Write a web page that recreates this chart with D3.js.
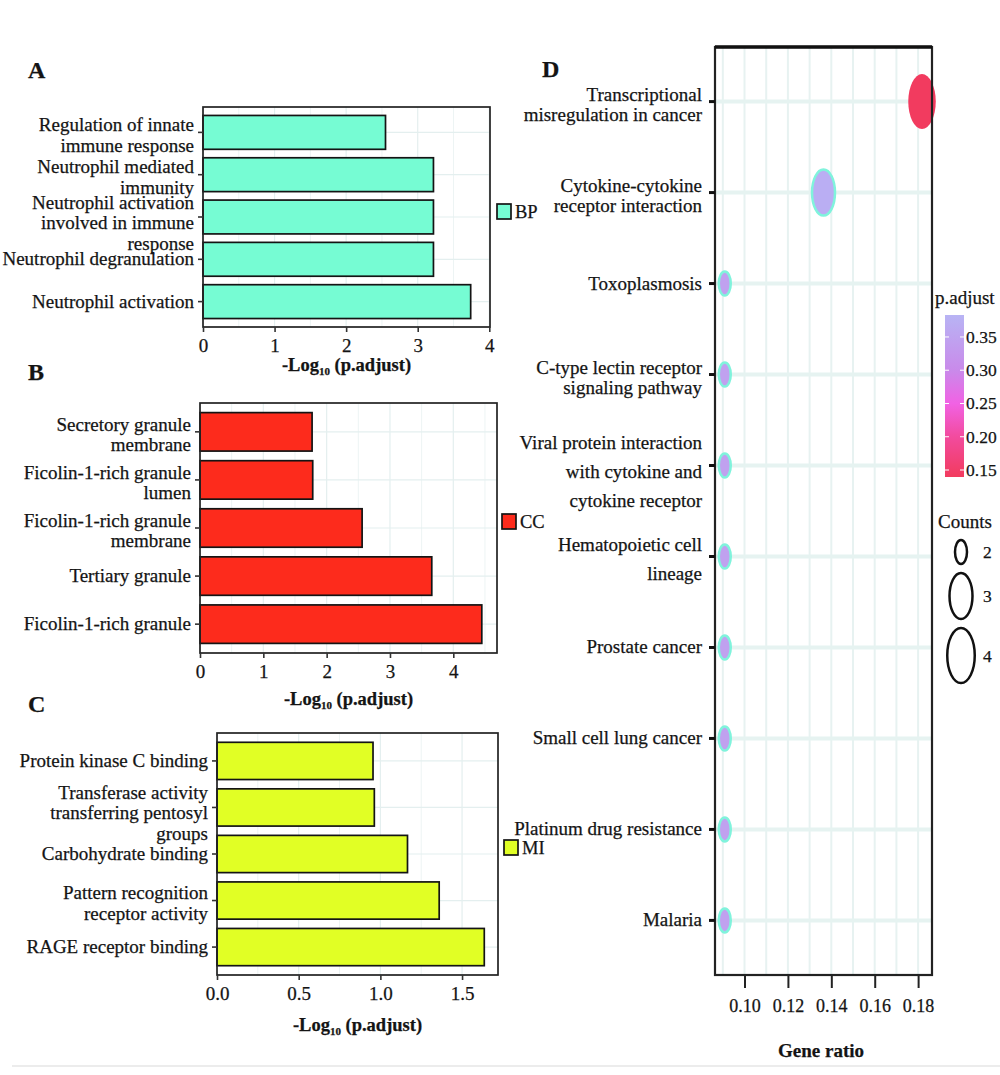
<!DOCTYPE html>
<html>
<head>
<meta charset="utf-8">
<script src="https://cdn.jsdelivr.net/npm/d3@7"></script>
<style>
  body { margin: 0; background: #fff; }
  svg text { font-family: "Liberation Serif", "Times New Roman", serif; fill: #141414; stroke: #141414; stroke-width: 0.25px; }
</style>
</head>
<body>
<div id="canvas"></div>
<script>
(function(d3){

  // GO biological process
  var bpTerms = ['Regulation of innate\nimmune response', 'Neutrophil mediated\nimmunity',
                 'Neutrophil activation\ninvolved in immune\nresponse', 'Neutrophil degranulation',
                 'Neutrophil activation'];
  var bpValues = [2.55, 3.22, 3.22, 3.22, 3.74];
  var bpTicks = [0, 1, 2, 3, 4];

  // GO cellular component
  var ccTerms = ['Secretory granule\nmembrane', 'Ficolin-1-rich granule\nlumen',
                 'Ficolin-1-rich granule\nmembrane', 'Tertiary granule', 'Ficolin-1-rich granule'];
  var ccValues = [1.77, 1.78, 2.56, 3.66, 4.45];
  var ccTicks = [0, 1, 2, 3, 4];

  // GO molecular function
  var mfTerms = ['Protein kinase C binding', 'Transferase activity\ntransferring pentosyl\ngroups',
                 'Carbohydrate binding', 'Pattern recognition\nreceptor activity', 'RAGE receptor binding'];
  var mfValues = [0.955, 0.963, 1.166, 1.36, 1.636];
  var mfTicks = [0, 0.5, 1.0, 1.5];

  // KEGG dot plot
  var keggTerms = ['Transcriptional\nmisregulation in cancer', 'Cytokine-cytokine\nreceptor interaction',
                   'Toxoplasmosis', 'C-type lectin receptor\nsignaling pathway',
                   'Viral protein interaction\nwith cytokine and\ncytokine receptor',
                   'Hematopoietic cell\nlineage', 'Prostate cancer', 'Small cell lung cancer',
                   'Platinum drug resistance', 'Malaria'];
  var keggRatio = [0.1818, 0.1364, 0.0909, 0.0909, 0.0909, 0.0909, 0.0909, 0.0909, 0.0909, 0.0909];
  var keggPadj = [0.14, 0.372, 0.345, 0.345, 0.345, 0.345, 0.345, 0.345, 0.345, 0.345];
  var keggCount = [4, 3, 2, 2, 2, 2, 2, 2, 2, 2];
  var ratioTicks = [0.10, 0.12, 0.14, 0.16, 0.18];
  var padjTicks = [0.15, 0.20, 0.25, 0.30, 0.35];
  var countKeys = [2, 3, 4];


  var canvas = d3.select('#canvas').append('svg')
      .attr('width', 1000)
      .attr('height', 1075);

  var ink = '#141414',
      gridMajor = '#e4efef',
      gridMinor = '#edf4f4',
      labelSize = 19;


  /**
   * Multi line category label, centred on y.
   */
  function label(g, text, x, y, lh) {
    var lines = text.split('\n'),
        first = y - (lines.length - 1) / 2 * lh + 3 * (lines.length - 1) + 6;
    var t = g.append('text')
        .attr('x', x)
        .attr('y', first)
        .attr('text-anchor', 'end')
        .style('font-size', labelSize + 'px');
    lines.forEach(function(l, i) {
      t.append('tspan').attr('x', x).attr('dy', i === 0 ? 0 : lh).text(l);
    });
  }


  /**
   * Horizontal bar panel (A, B, C).
   */
  function barPanel(p) {
    var g = canvas.append('g');

    var x = d3.scaleLinear().domain([0, p.max]).range([p.left, p.right]);
    var y = d3.scaleBand().domain(p.terms).range([p.top, p.bottom])
        .paddingInner(0.2).paddingOuter(0.2);

    // grid
    var minor = p.ticks.map(function(d, i) { return d + p.step / 2; })
        .filter(function(d) { return d < p.max; });
    g.selectAll('.minor').data(minor)
      .enter().append('line')
        .attr('x1', function(d) { return x(d); })
        .attr('x2', function(d) { return x(d); })
        .attr('y1', p.top).attr('y2', p.bottom)
        .attr('stroke', gridMinor).attr('stroke-width', 1);
    g.selectAll('.major').data(p.ticks)
      .enter().append('line')
        .attr('x1', function(d) { return x(d); })
        .attr('x2', function(d) { return x(d); })
        .attr('y1', p.top).attr('y2', p.bottom)
        .attr('stroke', gridMajor).attr('stroke-width', 1.2);
    g.selectAll('.hgrid').data(p.terms)
      .enter().append('line')
        .attr('x1', p.left).attr('x2', p.right)
        .attr('y1', function(d) { return y(d) + y.bandwidth() / 2; })
        .attr('y2', function(d) { return y(d) + y.bandwidth() / 2; })
        .attr('stroke', gridMajor).attr('stroke-width', 1.2);

    // bars
    g.selectAll('.bar').data(p.values)
      .enter().append('rect')
        .attr('x', x(0))
        .attr('y', function(d, i) { return y(p.terms[i]); })
        .attr('width', function(d) { return x(d) - x(0); })
        .attr('height', y.bandwidth())
        .attr('fill', p.fill)
        .attr('stroke', ink)
        .attr('stroke-width', 1.7);

    // frame
    g.append('rect')
        .attr('x', p.left).attr('y', p.top)
        .attr('width', p.right - p.left).attr('height', p.bottom - p.top)
        .attr('fill', 'none').attr('stroke', '#222').attr('stroke-width', 1.7);

    // x axis
    var ax = g.append('g')
        .attr('transform', 'translate(0,' + p.bottom + ')')
        .call(d3.axisBottom(x).tickValues(p.ticks).tickSize(5).tickPadding(7).tickFormat(p.fmt));
    ax.select('.domain').remove();
    ax.selectAll('line').attr('stroke', '#333').attr('stroke-width', 1.6);
    ax.selectAll('text').style('font-size', '19px').attr('fill', ink)
        .style('font-family', '"Liberation Serif", serif');

    // y ticks + labels
    p.terms.forEach(function(t) {
      var cy = y(t) + y.bandwidth() / 2;
      g.append('line')
          .attr('x1', p.left - 5).attr('x2', p.left)
          .attr('y1', cy).attr('y2', cy)
          .attr('stroke', '#333').attr('stroke-width', 1.6);
      label(g, t, p.left - 9, cy, 20.5);
    });

    // axis title
    var tt = g.append('text')
        .attr('x', (p.left + p.right) / 2)
        .attr('y', p.titleY)
        .attr('text-anchor', 'middle')
        .style('font-size', '18.5px')
        .style('font-weight', 'bold');
    tt.append('tspan').text('-Log');
    tt.append('tspan').attr('dy', 4).style('font-size', '11px').text('10');
    tt.append('tspan').attr('dy', -4).text(' (p.adjust)');

    // panel letter
    g.append('text')
        .attr('x', 28).attr('y', p.letterY)
        .style('font-size', '24px').style('font-weight', 'bold')
        .text(p.letter);

    // legend
    g.append('rect')
        .attr('x', p.legX).attr('y', p.legY)
        .attr('width', 14).attr('height', 15)
        .attr('fill', p.fill).attr('stroke', ink).attr('stroke-width', 1.7);
    g.append('text')
        .attr('x', p.legX + 18).attr('y', p.legY + 14)
        .style('font-size', '18.5px')
        .text(p.key);
  }

  var fmtInt = d3.format('d'),
      fmt1 = d3.format('.1f');

  barPanel({terms: bpTerms, values: bpValues, ticks: bpTicks, step: 1, max: 4.01, fmt: fmtInt,
            left: 203, right: 490, top: 107, bottom: 327, fill: '#76fcd3',
            titleY: 371, letter: 'A', letterY: 78, key: 'BP', legX: 497, legY: 204});

  barPanel({terms: ccTerms, values: ccValues, ticks: ccTicks, step: 1, max: 4.69, fmt: fmtInt,
            left: 200, right: 497, top: 403, bottom: 653, fill: '#fd2b1c',
            titleY: 705, letter: 'B', letterY: 380, key: 'CC', legX: 502, legY: 514});

  barPanel({terms: mfTerms, values: mfValues, ticks: mfTicks, step: 0.5, max: 1.72, fmt: fmt1,
            left: 217, right: 498, top: 733, bottom: 975, fill: '#e1ff25',
            titleY: 1031, letter: 'C', letterY: 712, key: 'MI', legX: 504, legY: 840});


  /**
   * Panel D: KEGG dot plot.
   */
  var D = {left: 715, right: 932, top: 47, bottom: 975};
  var gd = canvas.append('g');

  var x = d3.scaleLinear().domain([0.0864, 0.1864]).range([D.left, D.right]);
  var y = d3.scalePoint().domain(keggTerms).range([D.top, D.bottom]).padding(0.6);
  var ry = d3.scaleLinear().domain([2, 3, 4]).range([12, 23, 27.5]);
  var color = d3.scaleLinear()
      .domain([0.1395, 0.20, 0.25, 0.30, 0.383])
      .range(['#f23b5e', '#f24b9e', '#f162e4', '#c98aea', '#b8b4f4']);

  // grid
  var vgrid = d3.range(9, 19).map(function(d) { return d / 100; });
  gd.selectAll('.vg').data(vgrid)
    .enter().append('line')
      .attr('x1', function(d) { return x(d); })
      .attr('x2', function(d) { return x(d); })
      .attr('y1', D.top).attr('y2', D.bottom)
      .attr('stroke', '#e7f2f1').attr('stroke-width', 2);
  gd.selectAll('.hg').data(keggTerms)
    .enter().append('line')
      .attr('x1', D.left).attr('x2', D.right)
      .attr('y1', function(d) { return y(d); })
      .attr('y2', function(d) { return y(d); })
      .attr('stroke', '#e6f3f1').attr('stroke-width', 4);

  // dots
  gd.selectAll('.dot').data(keggTerms)
    .enter().append('ellipse')
      .attr('cx', function(d, i) { return x(keggRatio[i]); })
      .attr('cy', function(d) { return y(d); })
      .attr('rx', function(d, i) { return ry(keggCount[i]) * 0.5; })
      .attr('ry', function(d, i) { return ry(keggCount[i]); })
      .attr('fill', function(d, i) { return color(keggPadj[i]); })
      .attr('stroke', function(d, i) { return keggPadj[i] > 0.3 ? '#80f3dc' : 'none'; })
      .attr('stroke-width', 2.5);

  // frame
  gd.append('rect')
      .attr('x', D.left).attr('y', D.top)
      .attr('width', D.right - D.left).attr('height', D.bottom - D.top)
      .attr('fill', 'none').attr('stroke', '#222').attr('stroke-width', 2.2);
  gd.append('line')
      .attr('x1', D.left).attr('x2', D.right)
      .attr('y1', D.top).attr('y2', D.top)
      .attr('stroke', '#111').attr('stroke-width', 3.5);

  // x axis
  var axd = gd.append('g')
      .attr('transform', 'translate(0,' + D.bottom + ')')
      .call(d3.axisBottom(x).tickValues(ratioTicks).tickSize(13).tickPadding(11).tickFormat(d3.format('.2f')));
  axd.select('.domain').remove();
  axd.selectAll('line').attr('stroke', '#222').attr('stroke-width', 2);
  axd.selectAll('text').style('font-size', '18px').attr('fill', ink)
      .style('font-family', '"Liberation Serif", serif');

  gd.append('text')
      .attr('x', 821).attr('y', 1057)
      .attr('text-anchor', 'middle')
      .style('font-size', '19px').style('font-weight', 'bold')
      .text('Gene ratio');

  // y ticks + labels
  var loose = ['Viral protein interaction\nwith cytokine and\ncytokine receptor', 'Hematopoietic cell\nlineage'];
  keggTerms.forEach(function(t) {
    gd.append('line')
        .attr('x1', D.left - 6).attr('x2', D.left)
        .attr('y1', y(t)).attr('y2', y(t))
        .attr('stroke', '#111').attr('stroke-width', 3);
    label(gd, t, D.left - 13, y(t), loose.indexOf(t) >= 0 ? 29 : 20);
  });

  gd.append('text')
      .attr('x', 542).attr('y', 77)
      .style('font-size', '24px').style('font-weight', 'bold')
      .text('D');

  // colour bar
  var cb = d3.scaleLinear().domain([0.1395, 0.383]).range([477, 315]);
  var grad = canvas.append('defs').append('linearGradient')
      .attr('id', 'padj').attr('x1', 0).attr('x2', 0).attr('y1', 1).attr('y2', 0);
  color.domain().forEach(function(v) {
    grad.append('stop')
        .attr('offset', (v - 0.1395) / (0.383 - 0.1395))
        .attr('stop-color', color(v));
  });
  gd.append('text')
      .attr('x', 935).attr('y', 304)
      .style('font-size', '19px')
      .text('p.adjust');
  gd.append('rect')
      .attr('x', 945).attr('y', 315)
      .attr('width', 19).attr('height', 162)
      .attr('fill', 'url(#padj)');
  padjTicks.forEach(function(v) {
    gd.append('line').attr('x1', 945).attr('x2', 949).attr('y1', cb(v)).attr('y2', cb(v))
        .attr('stroke', '#fff').attr('stroke-width', 1);
    gd.append('line').attr('x1', 960).attr('x2', 964).attr('y1', cb(v)).attr('y2', cb(v))
        .attr('stroke', '#fff').attr('stroke-width', 1);
    gd.append('text')
        .attr('x', 966).attr('y', cb(v) + 6)
        .style('font-size', '17.5px')
        .text(d3.format('.2f')(v));
  });

  // size legend
  gd.append('text')
      .attr('x', 938).attr('y', 528)
      .style('font-size', '19px')
      .text('Counts');
  var top = 540;
  countKeys.forEach(function(c) {
    var r = ry(c);
    gd.append('ellipse')
        .attr('cx', 961).attr('cy', top + r)
        .attr('rx', r * 0.5).attr('ry', r)
        .attr('fill', '#fff').attr('stroke', '#111').attr('stroke-width', 2.5);
    gd.append('text')
        .attr('x', 983).attr('y', top + r + 6)
        .style('font-size', '17.5px')
        .text(c);
    top += 2 * r + 9;
  });

  // faint page edge at the bottom
  canvas.append('line')
      .attr('x1', 12).attr('x2', 1000)
      .attr('y1', 1066).attr('y2', 1066)
      .attr('stroke', '#ececec').attr('stroke-width', 2);

})(d3);
</script>
</body>
</html>
